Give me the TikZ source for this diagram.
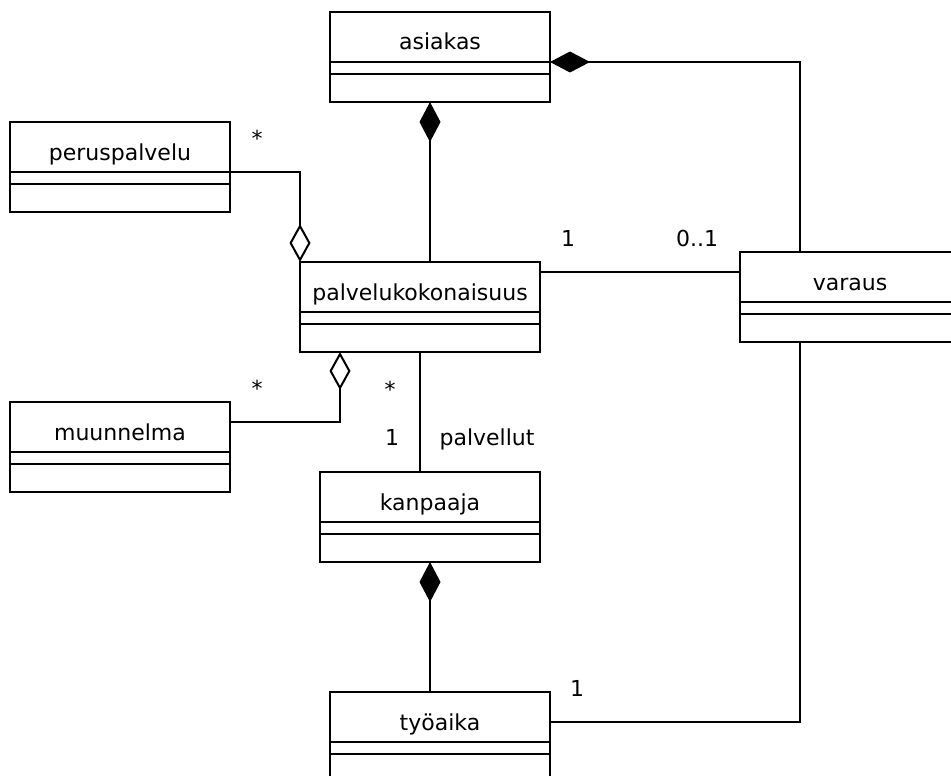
\documentclass[tikz,border=0pt]{standalone}
\usepackage{fontspec}
\setmainfont{DejaVu Sans}
\usetikzlibrary{arrows.meta}
\tikzset{
  clsbox/.style={draw, line width=2pt, minimum height=90pt, inner sep=0pt, outer sep=0pt, anchor=north west},
  clsname/.style={anchor=base, inner sep=0pt},
  mult/.style={anchor=base, inner sep=0pt},
  conn/.style={line width=2pt},
  compo/.style={conn, -{Diamond[length=40pt,width=21pt,fill=black]}},
  aggr/.style={conn, -{Diamond[open,length=38pt,width=21pt]}},
}
\newcommand\umlclass[5]{% id, left, top, width, text
  \node[clsbox, minimum width=#4pt] (#1) at (#2,#3) {};
  \draw[conn] ([yshift=-50pt]#1.north west) -- ([yshift=-50pt]#1.north east);
  \draw[conn] ([yshift=-62pt]#1.north west) -- ([yshift=-62pt]#1.north east);
  \node[clsname] (#1-name) at ([yshift=-38pt]#1.north) {#5};
}
\begin{document}
\begin{tikzpicture}[x=1pt, y=-1pt, font=\fontsize{22}{26}\selectfont]
\useasboundingbox (0,0) rectangle (951,776);
\umlclass{asiakas}{330}{12}{220}{asiakas}
\umlclass{perus}{10}{122}{220}{peruspalvelu}
\umlclass{palv}{300}{262}{240}{palvelukokonaisuus}
\umlclass{varaus}{740}{252}{220}{varaus}
\umlclass{muun}{10}{402}{220}{muunnelma}
\umlclass{kanp}{320}{472}{220}{kanpaaja}
\umlclass{tyo}{330}{692}{220}{työaika}

\draw[compo] ([xshift=10pt]palv.north) -- ([xshift=-10pt]asiakas.south);
\draw[compo] ([xshift=60pt]varaus.north west) |- ([yshift=-50pt]asiakas.north east);
\draw[aggr] ([yshift=-50pt]perus.north east) -| (palv.north west);
\draw[aggr] ([yshift=-20pt]muun.north east) -| ([xshift=40pt]palv.south west);
\draw[conn] (palv.south) -- (palv.south |- kanp.north);
\draw[compo] (kanp.south |- tyo.north) -- (kanp.south);
\coordinate (pv) at ([yshift=-10pt]palv.north east);
\draw[conn] (pv) -- (pv -| varaus.west);
\draw[conn] ([yshift=-30pt]tyo.north east) -| ([xshift=60pt]varaus.south west);

\node[mult] (m-perus) at (257,146) {*};
\node[mult] (m-palv1) at (568,246) {1};
\node[mult] (m-var) at (697,246) {0..1};
\node[mult] (m-muun) at (257,396) {*};
\node[mult] (m-palv2) at (390,397) {*};
\node[mult] (m-kanp) at (392,445) {1};
\node[mult] (r-palv) at (487,445) {palvellut};
\node[mult] (m-tyo) at (577,696) {1};
\end{tikzpicture}
\end{document}
